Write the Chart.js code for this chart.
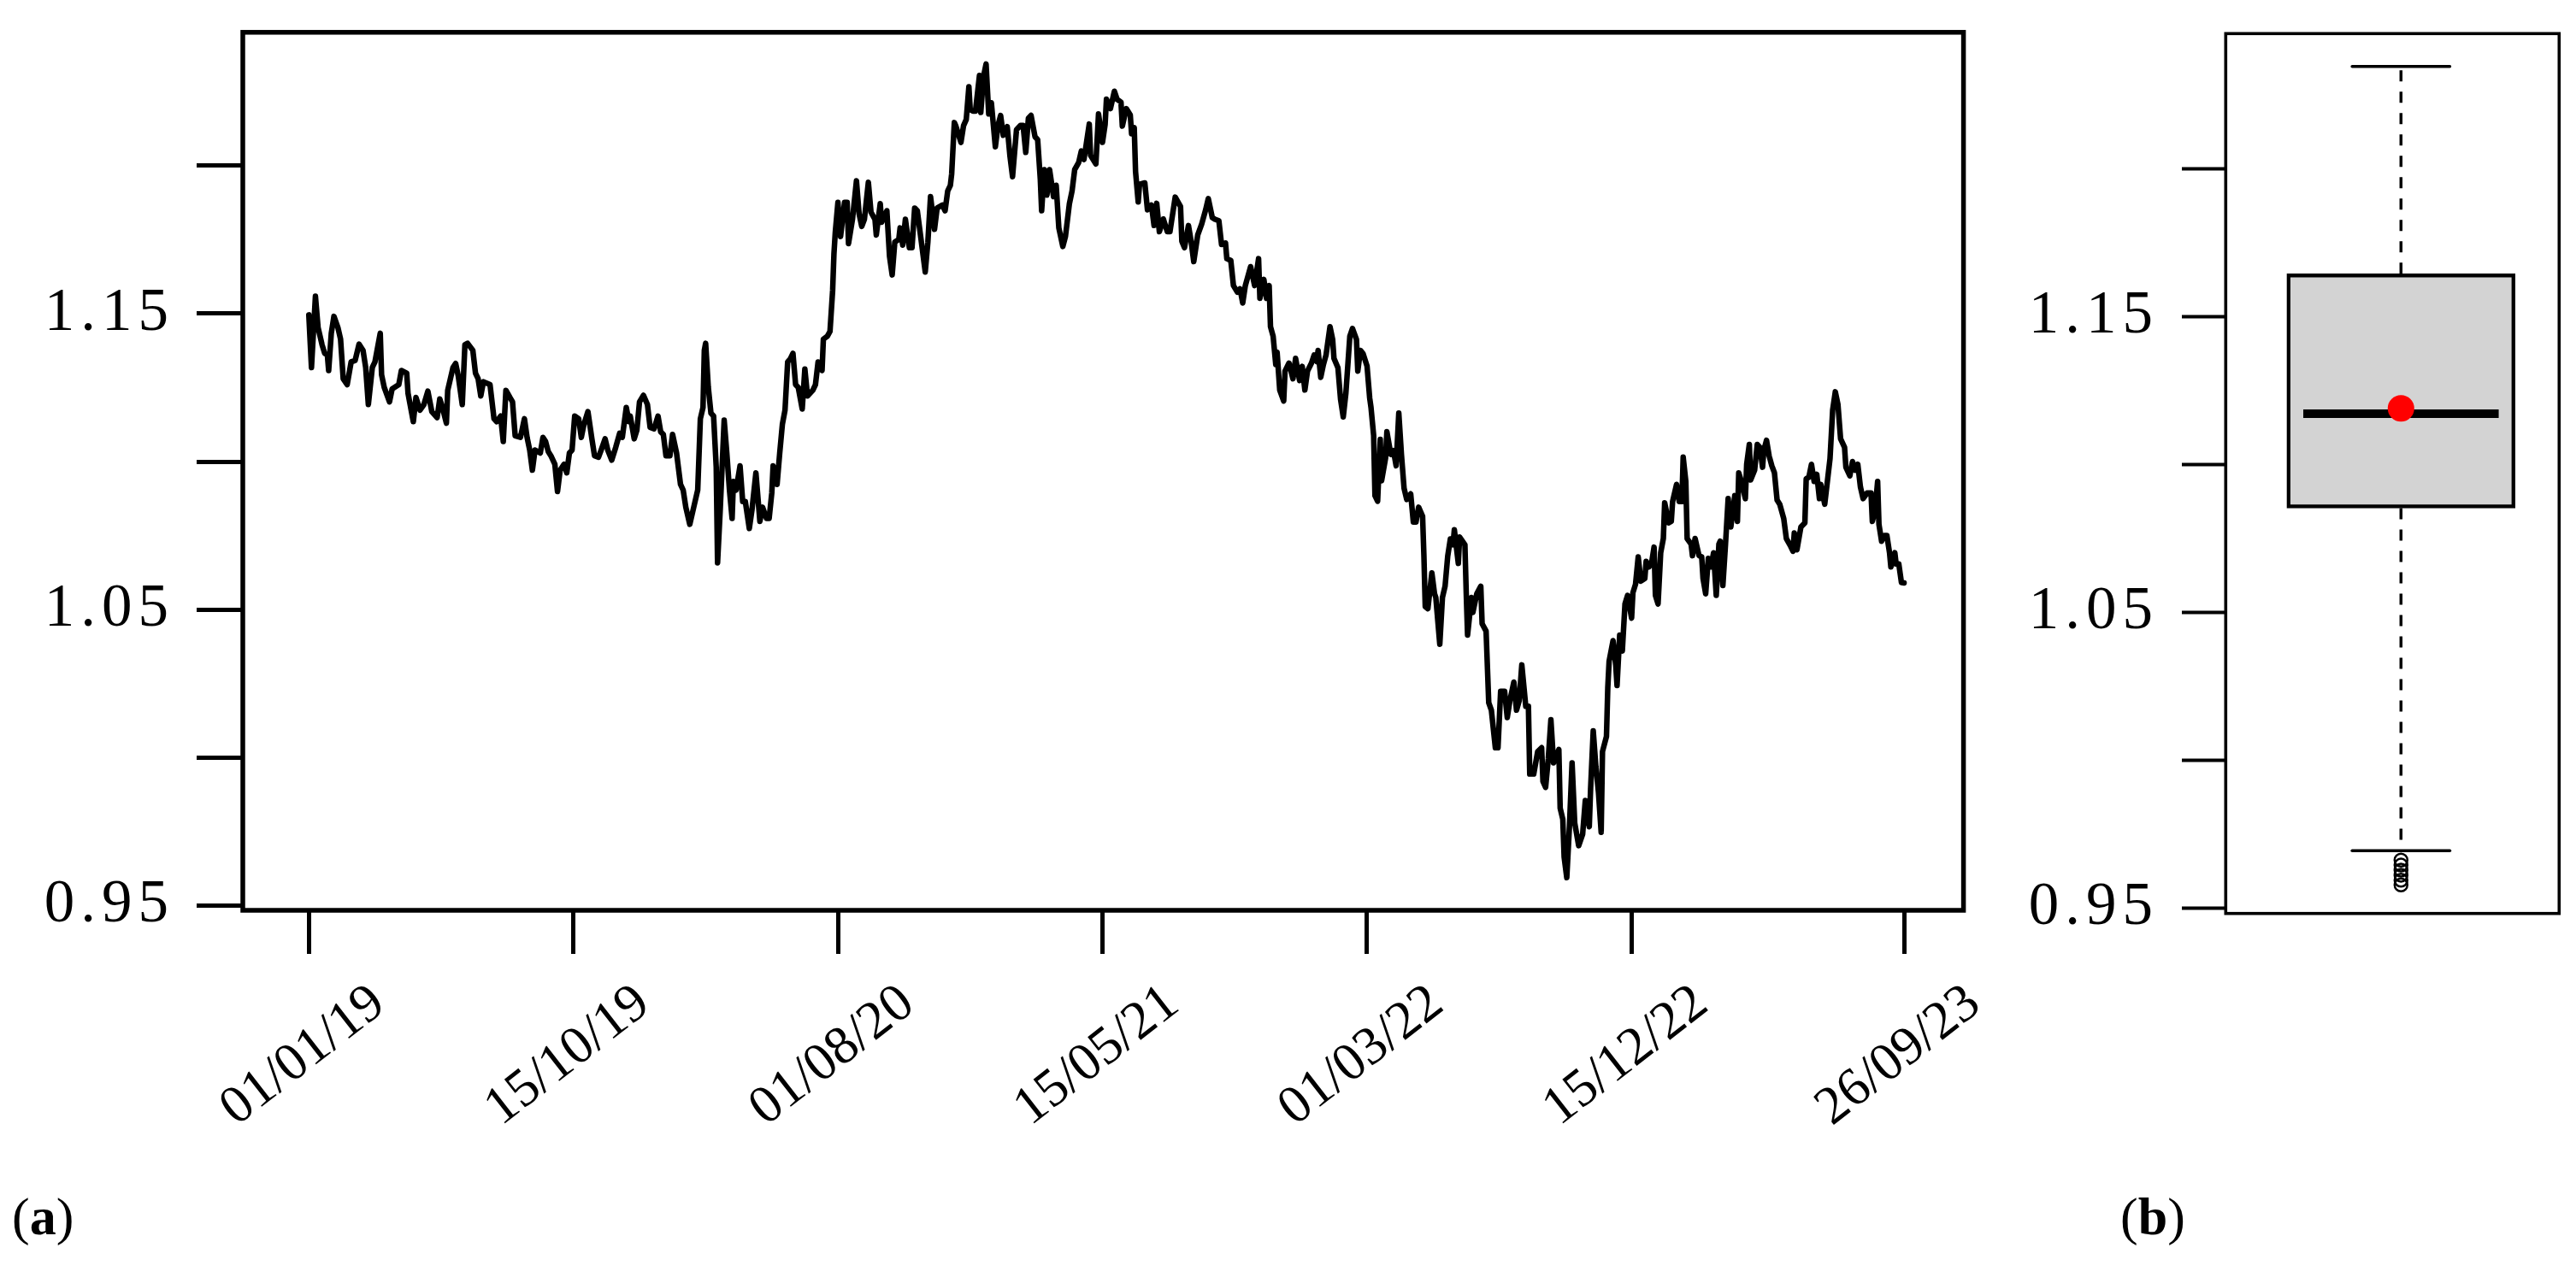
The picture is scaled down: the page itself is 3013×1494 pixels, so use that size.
<!DOCTYPE html>
<html>
<head>
<meta charset="utf-8">
<script src="https://cdn.jsdelivr.net/npm/chart.js@4.4.0/dist/chart.umd.min.js"></script>
<style>
  html, body { margin: 0; padding: 0; background: #ffffff; width: 3013px; height: 1494px; overflow: hidden; }
  canvas { position: absolute; }
  .panel { position: absolute; font-family: "Liberation Serif", "Times New Roman", serif; font-size: 62px; color: #000; line-height: 1; }
</style>
</head>
<body>
<canvas id="lineChart" width="2340" height="1380" style="left:0px; top:0px;"></canvas>
<canvas id="boxChart" width="683" height="1100" style="left:2330px; top:0px;"></canvas>
<div class="panel" style="left:14px; top:1392px;">(<b>a</b>)</div>
<div class="panel" style="left:2480px; top:1392px;">(<b>b</b>)</div>
<script>
// ---------- data ----------
const obsIndex = [
1,3,6,8,11,13,15,16,18,20,23,25,27,30,33,36,39,42,44,46,49,51,55,56,58,62,64,69,71,75,76,80,82,85,88,91,94,98,100,102,105,106,110,112,114,117,119,121,125,127,129,131,133,138,141,143,146,148,150,153,155,157,161,164,166,168,170,172,176,178,180,182,184,187,189,191,194,196,198,200,
202,205,207,209,212,215,217,220,222,225,227,230,233,236,238,241,243,244,247,249,251,254,257,259,262,265,267,269,271,274,276,279,282,284,286,289,292,295,297,299,300,301,303,305,307,309,310,312,315,317,319,321,322,324,327,329,331,334,336,339,342,344,347,349,351,352,355,357,359,361,363,365,367,369,371,374,376,378,382,384,386,389,390,393,
395,397,398,399,401,403,406,408,409,412,415,417,419,421,424,426,429,430,433,434,438,440,442,444,447,448,450,452,455,457,459,461,463,467,469,471,474,476,480,482,484,486,487,489,490,494,496,498,500,501,503,505,508,509,511,513,515,517,520,522,524,526,529,531,533,536,539,541,543,545,547,550,552,554,555,557,559,561,564,566,568,571,573,576,578,580,583,585,587,591,592,596,598,601,
603,604,607,610,612,615,616,619,622,623,625,626,628,629,633,635,638,640,642,644,647,650,652,656,660,661,663,666,668,670,673,676,679,681,684,686,689,691,694,695,698,700,703,705,707,709,713,716,719,720,723,725,727,728,730,732,733,735,738,739,742,745,747,750,752,754,756,759,761,763,764,766,768,770,773,775,776,779,781,783,785,788,790,793,794,796,798,
801,803,804,806,807,809,811,812,815,816,819,821,823,825,827,829,831,834,836,838,840,843,844,845,847,850,852,853,856,858,860,862,864,866,867,870,871,875,876,877,880,881,884,887,888,891,893,895,898,900,902,905,907,909,912,914,916,918,921,923,924,927,930,933,934,936,938,940,942,946,947,949,950,952,954,956,958,961,964,966,969,970,972,974,976,978,979,982,983,984,987,989,990,992,
994,996,998,1001,1002,1004,1006,1008,1011,1012,1014,1016,1018,1019,1021,1023,1025,1026,1029,1031,1032,1035,1037,1039,1040,1042,1043,1046,1047,1049,1052,1054,1055,1057,1059,1061,1063,1065,1067,1068,1070,1072,1074,1076,1079,1081,1082,1084,1087,1088,1090,1091,1094,1096,1098,1100,1101,1103,1105,1107,1109,1111,1113,1116,1118,1121,1123,1124,1126,1129,1132,1133,1135,1137,1139,1141,1143,1144,1147,1149,1151,1153,1155,1157,1159,1162,1163,1166,1168,1170,1172,1174,1176,1179,1182,1183,1185,1187,1188,1190,1192,1194,1196,1197,1200,1201,1203,1205,1207
];
const eurusd = [
1.1496,1.1318,1.1559,1.1453,1.1395,1.1366,1.1361,1.1308,1.1434,1.1491,1.1453,1.1414,1.1280,1.1260,1.1337,1.1342,1.1397,1.1376,1.1318,1.1193,1.1318,1.1337,1.1434,1.1294,1.1251,1.1202,1.1246,1.1260,1.1308,1.1299,1.1231,1.1135,1.1217,1.1174,1.1193,1.1238,1.1169,1.1149,1.1212,1.1183,1.1130,1.1241,1.1318,1.1332,1.1289,1.1193,1.1395,1.1400,1.1376,1.1299,1.1280,1.1222,1.1270,1.1260,1.1145,1.1135,1.1154,1.1068,1.1241,1.1217,1.1202,1.1087,1.1082,1.1145,1.1082,1.1039,1.0971,1.1039,1.1029,1.1082,1.1068,1.1034,1.1020,1.0991,1.0899,1.0971,1.0991,1.0962,1.1029,1.1039,
1.1154,1.1145,1.1082,1.1126,1.1169,1.1077,1.1020,1.1015,1.1039,1.1077,1.1039,1.1005,1.1048,1.1096,1.1082,1.1183,1.1135,1.1154,1.1077,1.1106,1.1202,1.1224,1.1193,1.1116,1.1111,1.1154,1.1101,1.1092,1.1020,1.1020,1.1092,1.1029,1.0923,1.0904,1.0846,1.0788,1.0846,1.0904,1.1145,1.1183,1.1376,1.1400,1.1251,1.1164,1.1154,1.0981,1.0658,1.0836,1.1140,1.1029,1.0904,1.0808,1.0933,1.0904,1.0986,1.0865,1.0865,1.0774,1.0836,1.0962,1.0798,1.0846,1.0808,1.0808,1.0894,1.0986,1.0923,1.1029,1.1126,1.1174,1.1337,1.1347,1.1366,1.1260,1.1251,1.1178,1.1313,1.1222,1.1241,1.1260,1.1337,1.1308,1.1414,1.1424,
1.1440,1.1578,1.1703,1.1775,1.1876,1.1761,1.1876,1.1876,1.1737,1.1819,1.1949,1.1838,1.1795,1.1819,1.1944,1.1843,1.1819,1.1766,1.1872,1.1809,1.1848,1.1694,1.1631,1.1742,1.1751,1.1790,1.1732,1.1819,1.1723,1.1723,1.1857,1.1848,1.1780,1.1641,1.1742,1.1896,1.1785,1.1857,1.1867,1.1848,1.1915,1.1934,1.1973,1.2146,1.2136,1.2079,1.2136,1.2156,1.2267,1.2190,1.2185,1.2185,1.2305,1.2180,1.2300,1.2344,1.2175,1.2213,1.2064,1.2136,1.2170,1.2103,1.2132,1.2035,1.1963,1.2122,1.2136,1.2136,1.2045,1.2161,1.2170,1.2098,1.2088,1.1954,1.1848,1.1987,1.1901,1.1987,1.1896,1.1934,1.1790,1.1727,1.1761,1.1872,1.1915,1.1987,1.2011,1.2050,1.2021,1.2141,1.2035,1.2006,1.2175,1.2079,
1.2140,1.2225,1.2193,1.2252,1.2225,1.2215,1.2134,1.2193,1.2172,1.2108,1.2129,1.1980,1.1878,1.1937,1.1942,1.1851,1.1867,1.1798,1.1873,1.1777,1.1820,1.1777,1.1777,1.1894,1.1862,1.1745,1.1723,1.1798,1.1745,1.1676,1.1766,1.1803,1.1851,1.1889,1.1825,1.1819,1.1814,1.1734,1.1739,1.1686,1.1680,1.1595,1.1573,1.1584,1.1536,1.1595,1.1659,1.1595,1.1686,1.1552,1.1616,1.1552,1.1595,1.1456,1.1424,1.1328,1.1370,1.1242,1.1205,1.1306,1.1333,1.1280,1.1349,1.1274,1.1322,1.1242,1.1306,1.1333,1.1360,1.1338,1.1376,1.1285,1.1328,1.1360,1.1456,1.1413,1.1349,1.1317,1.1210,1.1151,1.1231,1.1424,1.1450,1.1413,1.1306,1.1376,1.1365,
1.1323,1.1215,1.1183,1.1088,1.0885,1.0866,1.1075,1.0935,1.1012,1.1101,1.1024,1.1037,1.0986,1.1164,1.1024,1.0910,1.0872,1.0891,1.0796,1.0796,1.0846,1.0815,1.0681,1.0510,1.0503,1.0624,1.0554,1.0541,1.0383,1.0541,1.0579,1.0681,1.0739,1.0719,1.0770,1.0656,1.0745,1.0719,1.0554,1.0414,1.0541,1.0490,1.0554,1.0579,1.0452,1.0427,1.0185,1.0160,1.0033,1.0033,1.0224,1.0224,1.0135,1.0192,1.0255,1.0160,1.0192,1.0313,1.0173,1.0173,0.9944,0.9944,1.0020,1.0033,0.9919,0.9899,0.9995,1.0128,0.9982,1.0027,0.9829,0.9791,0.9664,0.9594,0.9766,0.9982,0.9779,0.9702,0.9741,0.9855,0.9766,0.9893,1.0090,0.9969,0.9880,0.9747,1.0020,1.0071,1.0236,1.0325,1.0395,1.0313,1.0243,1.0414,
1.0360,1.0519,1.0548,1.0471,1.0557,1.0586,1.0678,1.0596,1.0605,1.0663,1.0644,1.0654,1.0711,1.0548,1.0519,1.0692,1.0740,1.0861,1.0793,1.0798,1.0865,1.0923,1.0865,1.0865,1.1015,1.0933,1.0740,1.0721,1.0682,1.0740,1.0682,1.0678,1.0605,1.0553,1.0673,1.0644,1.0692,1.0548,1.0721,1.0731,1.0581,1.0721,1.0875,1.0779,1.0885,1.0798,1.0962,1.0933,1.0875,1.0991,1.1058,1.0938,1.0971,1.1058,1.1048,1.0981,1.1039,1.1072,1.1019,1.0986,1.0962,1.0870,1.0856,1.0808,1.0740,1.0716,1.0697,1.0759,1.0702,1.0779,1.0793,1.0942,1.0947,1.0991,1.0933,1.0957,1.0875,1.0923,1.0856,1.0933,1.1010,1.1174,1.1236,1.1193,1.1077,1.1048,1.0981,1.0952,1.1000,1.0971,1.0991,1.0914,1.0875,1.0894,1.0894,1.0798,1.0832,1.0933,1.0788,1.0731,1.0750,1.0750,1.0692,1.0644,1.0692,1.0654,1.0654,1.0591,1.0590
];

// axis ticks
const xTickIdx = [1, 201, 401, 601, 801, 1001, 1207];
const xTickLabels = ['01/01/19', '15/10/19', '01/08/20', '15/05/21', '01/03/22', '15/12/22', '26/09/23'];
const yTickValues = [0.95, 1.00, 1.05, 1.10, 1.15, 1.20];
const yTickLabels = ['0.95', '', '1.05', '', '1.15', ''];

// boxplot summary
const boxUpperWhisker = 1.2345;
const boxQ3 = 1.1644;
const boxMedian = 1.1171;
const boxQ1 = 1.0852;
const boxLowerWhisker = 0.9694;
const boxMean = 1.1189;
const boxOutliers = [0.9662, 0.9645, 0.9628, 0.9611, 0.9594, 0.9578];

// ---------- helpers ----------
const SERIF = '"Liberation Serif", "Times New Roman", serif';

function framePlugin(lw) {
  return {
    id: 'frame',
    // y tick labels (drawn under the datasets) get a little tracking,
    // x tick labels (ticks.z = 1, drawn after the datasets) none
    beforeDraw(chart) { chart.ctx.letterSpacing = '7px'; },
    afterDatasetsDraw(chart) { chart.ctx.letterSpacing = '0px'; },
    afterDraw(chart) {
      const a = chart.chartArea, ctx = chart.ctx;
      ctx.save();
      ctx.letterSpacing = '0px';
      ctx.strokeStyle = '#000';
      ctx.lineWidth = lw;
      ctx.lineJoin = 'miter';
      ctx.strokeRect(a.left, a.top, a.right - a.left, a.bottom - a.top);
      ctx.restore();
    }
  };
}

function fixY(width) {
  return function (scale) {
    scale.width = width;
    scale.paddingTop = 0; scale.paddingBottom = 0; scale.paddingLeft = 0; scale.paddingRight = 0;
  };
}
function fixX(height) {
  return function (scale) {
    scale.height = height;
    scale.paddingTop = 0; scale.paddingBottom = 0; scale.paddingLeft = 0; scale.paddingRight = 0;
  };
}

// ---------- panel (a): time series ----------
new Chart(document.getElementById('lineChart'), {
  type: 'line',
  data: {
    datasets: [{
      data: obsIndex.map((x, i) => ({ x: x, y: eurusd[i] })),
      borderColor: '#000',
      borderWidth: 6.5,
      pointRadius: 0,
      tension: 0,
      borderJoinStyle: 'round',
      borderCapStyle: 'round',
      fill: false
    }]
  },
  options: {
    responsive: false,
    animation: false,
    devicePixelRatio: 1,
    layout: { padding: { left: 0, top: 37.8, right: 43.4, bottom: 0 } },
    plugins: { legend: { display: false }, tooltip: { enabled: false } },
    scales: {
      x: {
        type: 'linear',
        min: -48.90, max: 1251.92,
        afterBuildTicks: (s) => { s.ticks = xTickIdx.map(v => ({ value: v })); },
        afterFit: fixX(315),
        border: { display: false },
        grid: { drawOnChartArea: false, drawTicks: true, tickLength: 51, tickWidth: 5, tickColor: '#000' },
        ticks: {
          z: 1,
          autoSkip: false,
          minRotation: 38, maxRotation: 38,
          padding: 21,
          labelOffset: 82,
          color: '#000',
          font: { family: SERIF, size: 63 },
          callback: (v, i) => xTickLabels[i]
        }
      },
      y: {
        type: 'linear',
        min: 0.94835, max: 1.24510,
        afterBuildTicks: (s) => { s.ticks = yTickValues.map(v => ({ value: v })); },
        afterFit: fixY(284),
        border: { display: false },
        grid: { drawOnChartArea: false, drawTicks: true, tickLength: 54, tickWidth: 5, tickColor: '#000' },
        ticks: {
          padding: 26,
          color: '#000',
          font: { family: SERIF, size: 71 },
          callback: (v, i) => yTickLabels[i]
        }
      }
    }
  },
  plugins: [framePlugin(5.5)]
});

// ---------- panel (b): box plot ----------
const boxCenter = 1;
const boxHalf = 0.4;
const capHalf = 0.2;
new Chart(document.getElementById('boxChart'), {
  data: {
    datasets: [
      { type: 'scatter', order: 0, data: [{ x: boxCenter, y: boxMean }],
        pointRadius: 15.5, pointBackgroundColor: '#ff0000', pointBorderWidth: 0, pointBorderColor: '#ff0000' },
      { type: 'scatter', order: 1, data: boxOutliers.map(v => ({ x: boxCenter, y: v })),
        pointRadius: 7.5, pointBackgroundColor: 'rgba(0,0,0,0)', pointBorderColor: '#000', pointBorderWidth: 2.5 },
      { type: 'line', order: 1, data: [{ x: boxCenter - boxHalf, y: boxMedian }, { x: boxCenter + boxHalf, y: boxMedian }],
        borderColor: '#000', borderWidth: 10, pointRadius: 0, borderCapStyle: 'butt' },
      { type: 'line', order: 2, data: [{ x: boxCenter, y: boxQ3 }, { x: boxCenter, y: boxUpperWhisker }],
        borderColor: '#000', borderWidth: 3.5, borderDash: [13, 12], pointRadius: 0 },
      { type: 'line', order: 2, data: [{ x: boxCenter, y: boxQ1 }, { x: boxCenter, y: boxLowerWhisker }],
        borderColor: '#000', borderWidth: 3.5, borderDash: [13, 12], pointRadius: 0 },
      { type: 'line', order: 2, data: [{ x: boxCenter - capHalf, y: boxUpperWhisker }, { x: boxCenter + capHalf, y: boxUpperWhisker }],
        borderColor: '#000', borderWidth: 3.5, pointRadius: 0, borderCapStyle: 'round' },
      { type: 'line', order: 2, data: [{ x: boxCenter - capHalf, y: boxLowerWhisker }, { x: boxCenter + capHalf, y: boxLowerWhisker }],
        borderColor: '#000', borderWidth: 3.5, pointRadius: 0, borderCapStyle: 'round' },
      { type: 'bar', order: 3, data: [{ x: boxCenter, y: [boxQ1, boxQ3] }],
        backgroundColor: '#d3d3d3', borderColor: '#000', borderWidth: 4.5, borderSkipped: false,
        barThickness: 267 }
    ]
  },
  options: {
    responsive: false,
    animation: false,
    devicePixelRatio: 1,
    layout: { padding: { left: 0, top: 39.3, right: 19.7, bottom: 31.3 } },
    plugins: { legend: { display: false }, tooltip: { enabled: false } },
    scales: {
      x: { type: 'linear', display: false, min: 0.38, max: 1.55 },
      y: {
        type: 'linear',
        min: 0.94815, max: 1.24561,
        afterBuildTicks: (s) => { s.ticks = yTickValues.map(v => ({ value: v })); },
        afterFit: fixY(273.3),
        border: { display: false },
        grid: { drawOnChartArea: false, drawTicks: true, tickLength: 51.3, tickWidth: 3.8, tickColor: '#000' },
        ticks: {
          padding: 27,
          color: '#000',
          font: { family: SERIF, size: 71 },
          callback: (v, i) => yTickLabels[i]
        }
      }
    }
  },
  plugins: [framePlugin(3.6)]
});
</script>
</body>
</html>
